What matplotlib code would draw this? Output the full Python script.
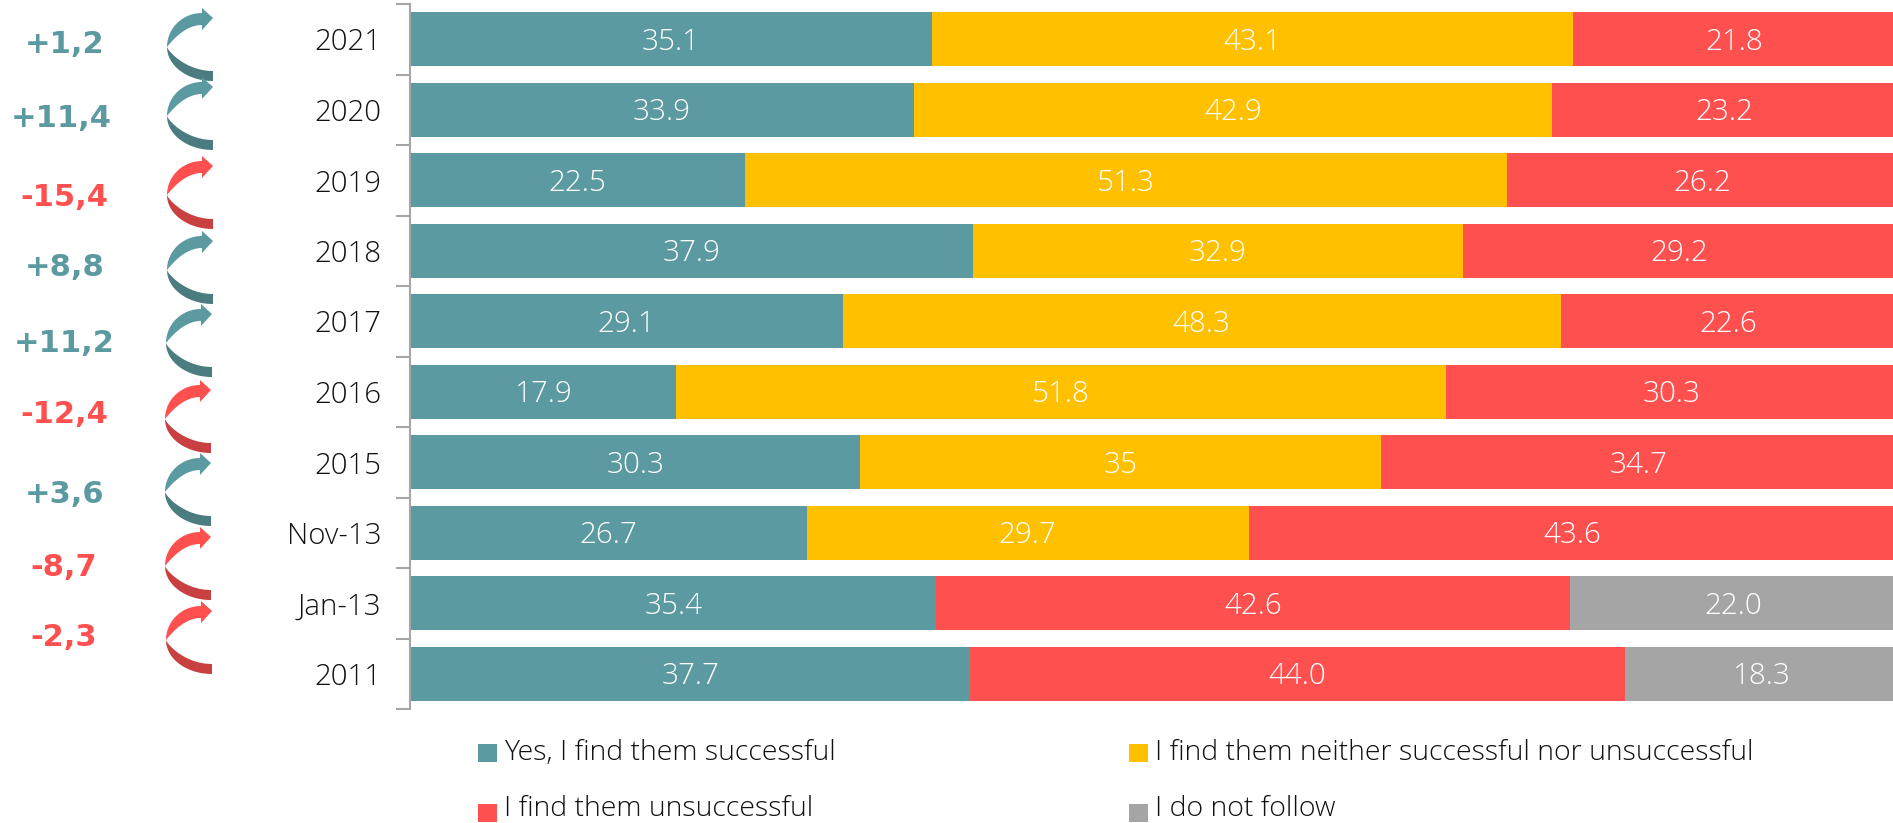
import matplotlib
matplotlib.use("Agg")
import matplotlib.pyplot as plt
from matplotlib.patches import Polygon, Rectangle
import numpy as np

W, H = 1893, 823

# data, top row first
years = ["2021", "2020", "2019", "2018", "2017", "2016", "2015", "Nov-13", "Jan-13", "2011"]
yes_vals = [35.1, 33.9, 22.5, 37.9, 29.1, 17.9, 30.3, 26.7, 35.4, 37.7]
neither_vals = [43.1, 42.9, 51.3, 32.9, 48.3, 51.8, 35, 29.7, 0, 0]
no_vals = [21.8, 23.2, 26.2, 29.2, 22.6, 30.3, 34.7, 43.6, 42.6, 44.0]
dnf_vals = [0, 0, 0, 0, 0, 0, 0, 0, 22.0, 18.3]
neither_txt = ["43.1", "42.9", "51.3", "32.9", "48.3", "51.8", "35", "29.7", "", ""]
deltas = ["+1,2", "+11,4", "-15,4", "+8,8", "+11,2", "-12,4", "+3,6", "-8,7", "-2,3"]
delta_x = [65, 61, 64, 65, 64, 64, 65, 64, 64]
delta_y = [44, 118, 197, 268, 343, 414, 494, 568, 638]
arrow_top = [18, 87, 166, 241, 314, 390, 463, 537, 611]
arrow_dx = [0, 0, 0, 0, -1, -2, -2, -2, -1]

TEAL, AMBER, RED, GREY = "#5B9AA0", "#FFC000", "#FF5050", "#A5A5A5"
TEAL_D, RED_D = "#4A7C80", "#C94040"

plt.rcParams["font.family"] = ["Open Sans", "DejaVu Sans"]
plt.rcParams["font.weight"] = 300

fig = plt.figure(figsize=(W / 100, H / 100), dpi=100)

# bar axes: x 410..1893, rows from y=4 to y=709
ax = fig.add_axes([410 / W, 1 - 709 / H, (W - 410) / W, 705 / H])
ypos = np.arange(len(years))
left = np.zeros(len(years))
series = [(yes_vals, TEAL, None), (neither_vals, AMBER, neither_txt), (no_vals, RED, None), (dnf_vals, GREY, None)]
for vals, col, txt in series:
    vals = np.array(vals, dtype=float)
    ax.barh(ypos, vals, left=left, height=0.77, color=col, linewidth=0)
    for i, v in enumerate(vals):
        if v > 0:
            s = txt[i] if txt else f"{v:.1f}"
            ax.text(left[i] + v / 2, i + 0.04, s, color="white", ha="center", va="center", fontsize=21.3)
    left += vals
ax.set_xlim(0, 99.75)
ax.set_ylim(len(years) - 0.5, -0.5)
ax.set_xticks([])
ax.set_yticks(ypos)
ax.set_yticklabels(years, fontsize=21.2, color="#111111")
ax.set_yticks(np.arange(len(years) + 1) - 0.5, minor=True)
ax.tick_params(axis="y", which="major", length=0, pad=20.7)
ax.tick_params(axis="y", which="minor", length=10, width=1.5, color="#A6A6A6")
for s in ("top", "right", "bottom"):
    ax.spines[s].set_visible(False)
ax.spines["left"].set_color("#A6A6A6")
ax.spines["left"].set_linewidth(1.5)

# overlay in pixel coordinates for the side arrows and legend
ov = fig.add_axes([0, 0, 1, 1], facecolor="none")
ov.set_xlim(0, W)
ov.set_ylim(H, 0)
ov.axis("off")


# quarter ellipse from the left extreme (x0, y0) to (x1, y1), power flattens the inner edge
def arc(x0, y0, x1, y1, power=1.0, n=40):
    t = np.linspace(0, np.pi / 2, n)
    return np.column_stack([x1 - (x1 - x0) * np.cos(t), y0 + (y1 - y0) * np.sin(t) ** power])


def draw_arrow(tip_y, dx, col, dark):
    lx, rx, hx = 167 + dx, 213 + dx, 202 + dx
    my = tip_y + 29
    upper = np.vstack([arc(lx, my, hx, tip_y - 5),
                       [[hx, tip_y - 10], [rx, tip_y], [hx, tip_y + 12]],
                       arc(lx, my, hx, tip_y + 7, 2.0)[::-1]])
    ov.add_patch(Polygon(upper, closed=True, fc=col, ec="none"))
    lower = np.vstack([arc(lx, my, rx, tip_y + 63), arc(lx, my, rx, tip_y + 53, 1.6)[::-1]])
    ov.add_patch(Polygon(lower, closed=True, fc=dark, ec="none"))


for i, d in enumerate(deltas):
    col, dark = (TEAL, TEAL_D) if d[0] == "+" else (RED, RED_D)
    draw_arrow(arrow_top[i], arrow_dx[i], col, dark)
    ov.text(delta_x[i], delta_y[i], d, color=col, fontsize=22, fontweight="bold",
            family="DejaVu Sans", ha="center", va="center")

legend_items = [("Yes, I find them successful", TEAL, 478, 753, 753),
                ("I find them neither successful nor unsuccessful", AMBER, 1129, 753, 753),
                ("I find them unsuccessful", RED, 478, 813, 809),
                ("I do not follow", GREY, 1129, 813, 809)]
for label, col, lx, ly, ty in legend_items:
    ov.add_patch(Rectangle((lx, ly - 9), 19, 18, fc=col, ec="none"))
    ov.text(lx + 26, ty, label, fontsize=20.5, color="#111111", ha="left", va="center")

fig.savefig("out.png", dpi=100)
